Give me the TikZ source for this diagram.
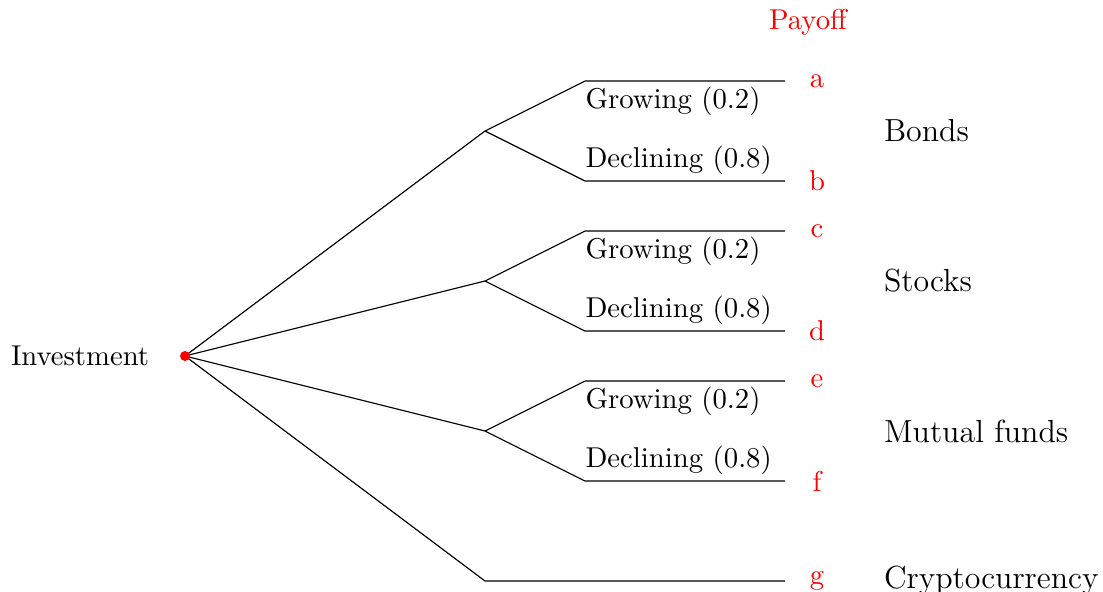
\documentclass[tikz,border=0pt]{standalone}
\usepackage{tikz}
\usetikzlibrary{positioning,calc}

\begin{document}
\begin{tikzpicture}[x=0.6275cm,y=0.6275cm,
    font=\fontsize{10.25}{12.5}\selectfont,
    payoff/.style={text=red},
    branch/.style={inner xsep=0pt,inner ysep=2pt},
    category/.style={anchor=west,inner xsep=0pt,font=\fontsize{11.4}{13.5}\selectfont}]
        \useasboundingbox (-3.7,-4.7) rectangle (18.36,7.12); % Frame
        \coordinate (root) at (0,0); % Decision node
        \node[anchor=east] (invest) at (-0.52,0) {Investment};
        \node[payoff] (payoff) at (12.46,6.68) {Payoff};
        \foreach \nm/\y/\hi/\lo/\cat in {bonds/4.5/a/b/Bonds,stocks/1.5/c/d/Stocks,funds/-1.5/e/f/Mutual funds}{
            \coordinate (\nm) at (6,\y); % Chance node
            \coordinate (\nm-g) at (8,\y+1);
            \coordinate (\nm-g-end) at (12,\y+1);
            \coordinate (\nm-d) at (8,\y-1);
            \coordinate (\nm-d-end) at (12,\y-1);
            \draw (root) -- (\nm);
            \draw (\nm) -- (\nm-g) -- (\nm-g-end);
            \draw (\nm) -- (\nm-d) -- (\nm-d-end);
            \node[branch,anchor=north west] (\nm-gl) at (\nm-g) {Growing (0.2)};
            \node[branch,anchor=south west] (\nm-dl) at (\nm-d) {Declining (0.8)};
            \node[payoff] (\hi) at (12.64,\y+1) {\hi};
            \node[payoff] (\lo) at (12.64,\y-1) {\lo};
            \node[category] (\nm-cat) at (13.97,\y) {\cat};
        }
        \coordinate (crypto) at (6,-4.5); % No chance node here
        \coordinate (crypto-end) at (12,-4.5);
        \draw (root) -- (crypto) -- (crypto-end);
        \node[payoff] (g) at (12.64,-4.5) {g};
        \node[category] (crypto-cat) at (13.97,-4.5) {Cryptocurrency};
        \fill[red] (root) circle (0.1);
    \end{tikzpicture}
\end{document}
